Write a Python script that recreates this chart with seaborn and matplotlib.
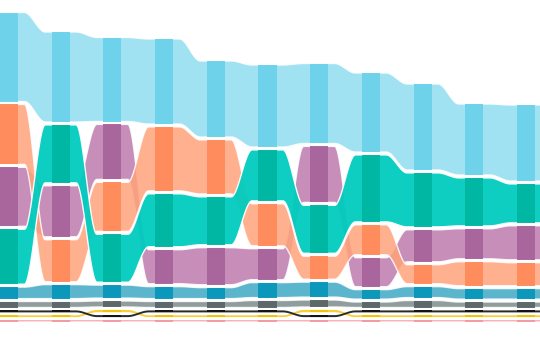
import numpy as np
import pandas as pd
import matplotlib
matplotlib.use("Agg")
import matplotlib.pyplot as plt
import seaborn as sns

# ---- data (11 periods, 9 series) ----
periods = list(range(1, 12))
series = ["lightblue", "orange", "purple", "teal", "steel", "grey", "black", "yellow", "pink"]
lightblue = [89, 90, 84, 85, 76, 82, 80, 79, 86, 71, 76]
orange    = [60, 42, 49, 64, 54, 42, 23, 30, 19, 24, 23]
purple    = [59, 51, 55, 34, 37, 31, 56, 29, 32, 30, 34]
teal      = [55, 58, 48, 53, 48, 51, 48, 67, 54, 48, 39]
steel     = [11.5, 14, 13, 12, 11, 15, 15, 9.5, 11, 10.5, 10.5]
grey      = [6, 6, 6, 6, 6, 7, 7, 5.5, 7, 5.5, 5.5]
black     = [2, 2, 2, 2, 2, 2, 2, 2, 2, 2, 2]
yellow    = [1.8, 1.8, 2.3, 1.8, 1.8, 1.8, 2.3, 1.8, 1.8, 1.8, 1.8]
pink      = [1.5, 1.5, 1.5, 1.5, 1.5, 1.5, 1.5, 1.5, 1.5, 1.5, 1.5]

light_colors = {
    "lightblue": "#A0E1F2", "orange": "#FFB18E", "purple": "#C68EB9",
    "teal": "#00CFC1", "steel": "#5BB7CE", "grey": "#919C9D",
    "black": "#2A2A2A", "yellow": "#F7CF3A", "pink": "#F7B3B8",
}
dark_colors = {
    "lightblue": "#6CD2EB", "orange": "#FF8A5B", "purple": "#A8649C",
    "teal": "#00B6A2", "steel": "#0897BA", "grey": "#5B6668",
    "black": "#111111", "yellow": "#F2C200", "pink": "#F29AA2",
}
alphas = {"lightblue": 0.85, "orange": 0.85, "purple": 0.85, "teal": 0.95,
          "steel": 0.85, "grey": 0.85}
thin = {"black", "yellow", "pink"}

df = pd.DataFrame({"lightblue": lightblue, "orange": orange, "purple": purple,
                   "teal": teal, "steel": steel, "grey": grey, "black": black,
                   "yellow": yellow, "pink": pink}, index=periods)

GAP = 2.9

sns.set_theme(style="white")
fig = plt.figure(figsize=(5.4, 3.4), dpi=100)
ax = fig.add_axes([0, 0, 1, 1])

n = len(periods)
cols = np.arange(n)

# stack: largest on top
lo = {s: np.zeros(n) for s in series}
hi = {s: np.zeros(n) for s in series}
for j in range(n):
    vals = df.iloc[j]
    base = 0.0
    for s in vals.sort_values().index:
        lo[s][j] = base
        hi[s][j] = base + vals[s]
        base = hi[s][j] + GAP

FLAT = 0.3
xs_parts = [np.linspace(-0.6, 0, 10)]
for i in range(n - 1):
    xs_parts.append(np.linspace(i, i + 1, 120)[1:])
xs_parts.append(np.linspace(n - 1, n - 0.4, 10)[1:])
xs = np.concatenate(xs_parts)


def smooth(vals):
    out = np.empty_like(xs)
    for k, x in enumerate(xs):
        if x <= 0:
            out[k] = vals[0]
        elif x >= n - 1:
            out[k] = vals[-1]
        else:
            i = int(np.floor(x))
            t = np.clip((x - i - FLAT) / (1 - 2 * FLAT), 0, 1)
            s = t * t * (3 - 2 * t)
            out[k] = vals[i] + (vals[i + 1] - vals[i]) * s
    return out


def base_color(hexc, a):
    rgb = np.array(matplotlib.colors.to_rgb(hexc))
    b = 1 - (1 - rgb) / a
    return tuple(np.clip(b, 0, 1))


order = ["pink", "yellow", "black", "grey", "steel", "purple", "orange", "teal", "lightblue"]
for s in order:
    if s in thin:
        ax.fill_between(xs, smooth(lo[s]), smooth(hi[s]),
                        facecolor=light_colors[s], linewidth=0, zorder=2)
    else:
        a = alphas[s]
        ax.fill_between(xs, smooth(lo[s]), smooth(hi[s]),
                        facecolor=base_color(light_colors[s], a), alpha=a,
                        edgecolor="white", linewidth=1.0, zorder=2)

for s in order:
    ax.bar(cols, hi[s] - lo[s], bottom=lo[s], width=0.35,
           color=dark_colors[s], linewidth=0, zorder=3, alpha=0.95)

ax.set_xlim(-9 / 51.7, (540 - 9) / 51.7)
ax.set_ylim(-18.5, 321.5)
ax.set_xticks([])
ax.set_yticks([])
sns.despine(ax=ax, left=True, bottom=True)
fig.savefig("out.png", dpi=100, facecolor="white")
